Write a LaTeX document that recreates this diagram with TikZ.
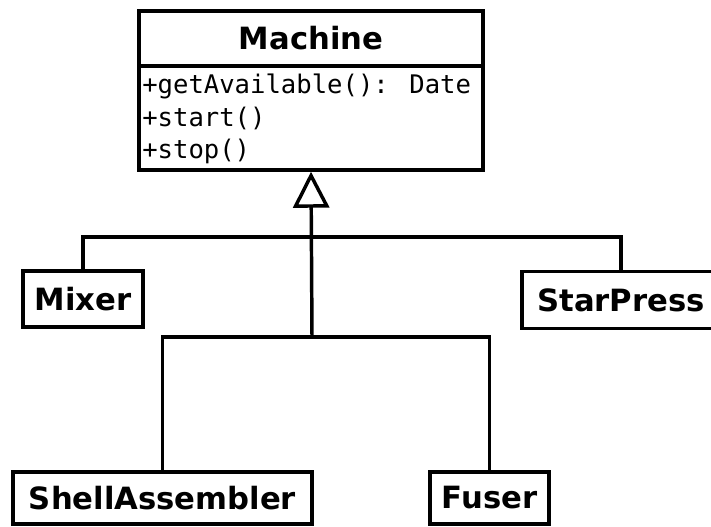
\documentclass[tikz,border=0pt]{standalone}
\usepackage{fontspec}
\setmainfont{DejaVu Sans}
\newfontfamily\monof{DejaVu Sans Mono}
\usetikzlibrary{arrows.meta}
\tikzset{
  cls/.style={draw, line width=2.6pt, fill=white, inner sep=0pt, font=\fontsize{23}{26}\selectfont\bfseries},
  conn/.style={line width=2.6pt},
  inh/.style={line width=2.6pt, -{Triangle[open, length=27pt, width=27pt, line width=2.6pt]}},
  meth/.style={anchor=base west, inner sep=0pt, font=\monof\fontsize{19.2}{22}\selectfont}
}
\begin{document}
\begin{tikzpicture}[x=0.75pt, y=-0.75pt]
\useasboundingbox (0,0) rectangle (711,527);
\begin{scope}
\clip (0,0) rectangle (711,527);
% class boxes
\node[cls, minimum width=258pt, minimum height=119.25pt] (machine) at (311,90.5) {};
\node[inner sep=0pt, font=\fontsize{23}{26}\selectfont\bfseries] (mtitle) at (311,38.5) {Machine};
\draw[conn] (machine.west |- 0,66) -- (machine.east |- 0,66);
\node[meth] (m1) at (142,94) {+getAvailable(): Date};
\node[meth] (m2) at (142,126.5) {+start()};
\node[meth] (m3) at (142,158.5) {+stop()};

\node[cls, minimum width=90pt, minimum height=42pt] (mixer) at (83,299) {Mixer};
\node[cls, minimum width=148.5pt, minimum height=42.75pt] (starpress) at (621,300) {StarPress};
\node[cls, minimum width=224.25pt, minimum height=39pt] (shell) at (162.5,498) {ShellAssembler};
\node[cls, minimum width=89.25pt, minimum height=39pt] (fuser) at (489.5,498) {Fuser};

% connectors
\coordinate (j1) at (312,237);
\coordinate (j2) at (312,337);
\draw[conn] (mixer.north) |- (j1) -| (starpress.north);
\draw[conn] (shell.north) |- (j2) -| (fuser.north);
\draw[inh] (j2) -- (machine.south);
\end{scope}
\end{tikzpicture}
\end{document}
